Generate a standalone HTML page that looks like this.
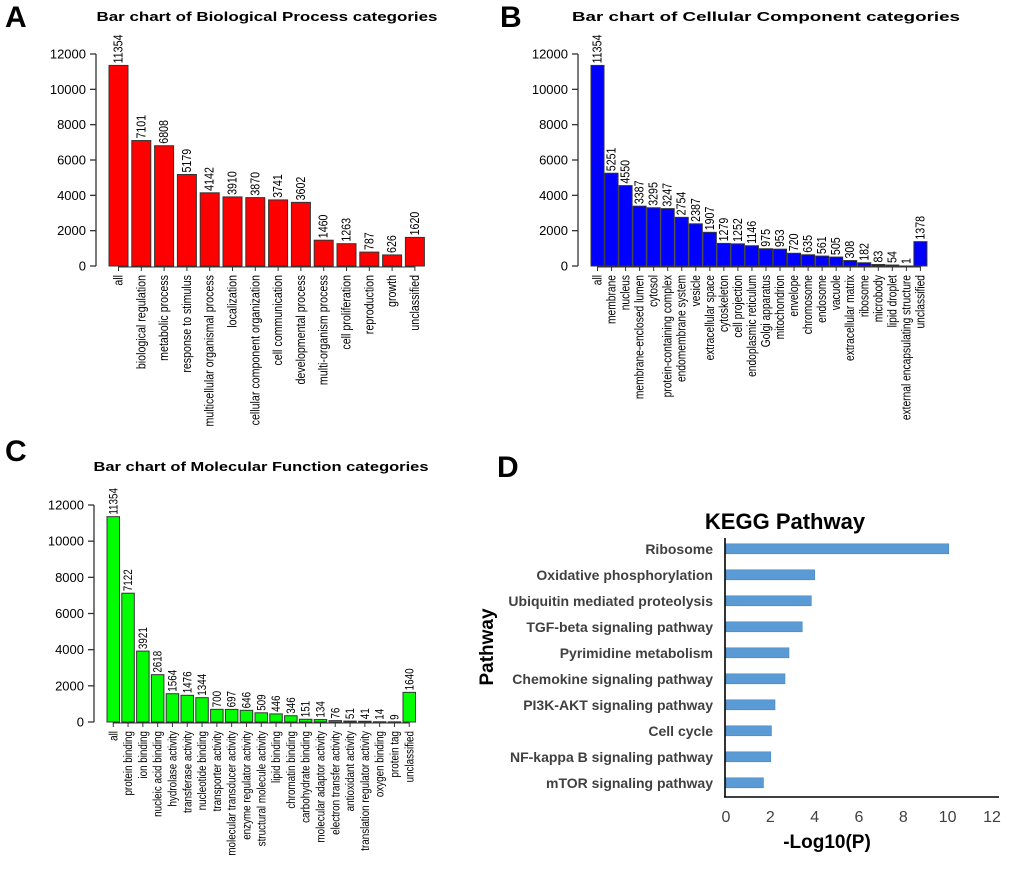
<!DOCTYPE html>
<html><head><meta charset="utf-8">
<style>
html,body{margin:0;padding:0;background:#fff;}
svg{display:block;font-family:"Liberation Sans",Arial,sans-serif;}
</style></head>
<body>
<svg id="fig" width="1020" height="877" viewBox="0 0 1020 877" xmlns="http://www.w3.org/2000/svg">
<text x="5" y="27" font-size="30" font-weight="bold">A</text>
<text x="500" y="27" font-size="30" font-weight="bold">B</text>
<text x="5" y="461" font-size="30" font-weight="bold">C</text>
<text x="497" y="477" font-size="30" font-weight="bold">D</text>
</svg>
<script>
const bpCategories=["all","biological regulation","metabolic process","response to stimulus","multicellular organismal process","localization","cellular component organization","cell communication","developmental process","multi-organism process","cell proliferation","reproduction","growth","unclassified"];
const bpValues=[11354,7101,6808,5179,4142,3910,3870,3741,3602,1460,1263,787,626,1620];
const ccCategories=["all","membrane","nucleus","membrane-enclosed lumen","cytosol","protein-containing complex","endomembrane system","vesicle","extracellular space","cytoskeleton","cell projection","endoplasmic reticulum","Golgi apparatus","mitochondrion","envelope","chromosome","endosome","vacuole","extracellular matrix","ribosome","microbody","lipid droplet","external encapsulating structure","unclassified"];
const ccValues=[11354,5251,4550,3387,3295,3247,2754,2387,1907,1279,1252,1146,975,953,720,635,561,505,308,182,83,54,1,1378];
const mfCategories=["all","protein binding","ion binding","nucleic acid binding","hydrolase activity","transferase activity","nucleotide binding","transporter activity","molecular transducer activity","enzyme regulator activity","structural molecule activity","lipid binding","chromatin binding","carbohydrate binding","molecular adaptor activity","electron transfer activity","antioxidant activity","translation regulator activity","oxygen binding","protein tag","unclassified"];
const mfValues=[11354,7122,3921,2618,1564,1476,1344,700,697,646,509,446,346,151,134,76,51,41,14,9,1640];
const goTicks=[0,2000,4000,6000,8000,10000,12000];
const keggPathways=["Ribosome","Oxidative phosphorylation","Ubiquitin mediated proteolysis","TGF-beta signaling pathway","Pyrimidine metabolism","Chemokine signaling pathway","PI3K-AKT signaling pathway","Cell cycle","NF-kappa B signaling pathway","mTOR signaling pathway"];
const keggValues=[10.05,4.0,3.85,3.44,2.84,2.66,2.21,2.05,2.02,1.69];
const keggTicks=[0,2,4,6,8,10,12];

const NS="http://www.w3.org/2000/svg";
const svg=document.getElementById('fig');
function mk(tag,attrs,parent,text){const e=document.createElementNS(NS,tag);for(const k in attrs)e.setAttribute(k,attrs[k]);if(text!==undefined)e.textContent=text;(parent||svg).appendChild(e);return e;}

function barPanel(cfg,cats,vals,ticks){
  const g=mk('g',{});
  
  
  const y=v=>cfg.y0-(v/12000)*(cfg.y0-cfg.y12);
  const x=i=>cfg.x0+i*cfg.pitch;
  const t=mk('text',{x:cfg.tx,y:cfg.ty,'font-size':13,'font-weight':'bold','text-anchor':'middle',textLength:cfg.tw,lengthAdjust:'spacingAndGlyphs'},g,cfg.title);
  
  
  const ax=mk('line',{x1:cfg.ax,x2:cfg.ax,y1:y(0),y2:y(12000),stroke:'#333','stroke-width':1.3},g);
  
  
  ticks.forEach(v=>{
    mk('line',{x1:cfg.ax-6,x2:cfg.ax,y1:y(v),y2:y(v),stroke:'#333','stroke-width':1.3},g);
    const tl=mk('text',{x:cfg.ax-10,y:y(v)+4.5,'font-size':13,'text-anchor':'end'},g,String(v));
    
    
  });
  cats.forEach((c,i)=>{
    const v=vals[i];
    const b=mk('rect',{x:x(i),y:y(v),width:cfg.bw,height:Math.max(0.5,y(0)-y(v)),fill:cfg.color,stroke:'#333','stroke-width':1},g);
    
    
    const cx=x(i)+cfg.bw/2;
    mk('line',{x1:cx,x2:cx,y1:y(0),y2:y(0)+5,stroke:'#333','stroke-width':1},g);
    const vl=mk('text',{transform:`translate(${cx+4},${y(v)-2}) rotate(-90) scale(0.82,1)`,'font-size':cfg.vfs,'text-anchor':'start'},g,String(v));
    
    
    const cl=mk('text',{transform:`translate(${cx+4},${y(0)+9}) rotate(-90) scale(0.82,1)`,'font-size':cfg.cfs,'text-anchor':'end'},g,c);
    
    
  });
  const xa=mk('line',{x1:x(0)+cfg.bw/2,x2:x(cats.length-1)+cfg.bw/2,y1:y(0)+1,y2:y(0)+1,stroke:'#333','stroke-width':1},g);
  
  
}

barPanel({name:'biological-process-chart',title:'Bar chart of Biological Process categories',tx:267,ty:21,tw:341,
  ax:96,y0:266,y12:54,x0:109,pitch:22.8,bw:19,color:'#ff0000',vfs:13,cfs:13},bpCategories,bpValues,goTicks);
barPanel({name:'cellular-component-chart',title:'Bar chart of Cellular Component categories',tx:766,ty:21,tw:388,
  ax:578,y0:266,y12:54,x0:591,pitch:14.04,bw:13,color:'#0000ff',vfs:13,cfs:12.5},ccCategories,ccValues,goTicks);
barPanel({name:'molecular-function-chart',title:'Bar chart of Molecular Function categories',tx:261,ty:471,tw:335,
  ax:94,y0:722,y12:505,x0:107,pitch:14.8,bw:12.5,color:'#00ff00',vfs:12,cfs:12},mfCategories,mfValues,goTicks);

(function(){
  const g=mk('g',{});
  
  
  const X0=726,X12=992,Y0=541,STEP=26,AXB=797;
  const x=v=>X0+(v/12)*(X12-X0);
  const t=mk('text',{x:785,y:529,'font-size':22,'font-weight':'bold','text-anchor':'middle'},g,'KEGG Pathway');
  
  
  keggPathways.forEach((p,i)=>{
    const cy=Y0+STEP*(i+0.3);
    const b=mk('rect',{x:X0,y:cy-5,width:x(keggValues[i])-X0,height:10,fill:'#5b9bd5',stroke:'#4a86c0','stroke-width':0.6},g);
    
    
    const l=mk('text',{x:713,y:cy+5,'font-size':14,'font-weight':'bold',fill:'#404040','text-anchor':'end'},g,p);
    
    
  });
  const ya=mk('line',{x1:X0-1,x2:X0-1,y1:Y0-3,y2:AXB,stroke:'#000','stroke-width':1.6},g);
  
  
  const xa=mk('line',{x1:X0-2,x2:999,y1:AXB,y2:AXB,stroke:'#000','stroke-width':1.6},g);
  
  
  keggTicks.forEach(v=>{
    const tl=mk('text',{x:x(v),y:822,'font-size':16,fill:'#404040','text-anchor':'middle'},g,String(v));
    
    
  });
  const xt=mk('text',{x:827,y:848,'font-size':19,'font-weight':'bold','text-anchor':'middle'},g,'-Log10(P)');
  
  
  const yt=mk('text',{transform:'translate(493,647) rotate(-90)','font-size':19,'font-weight':'bold','text-anchor':'middle'},g,'Pathway');
  
  
})();
</script>
</body></html>
